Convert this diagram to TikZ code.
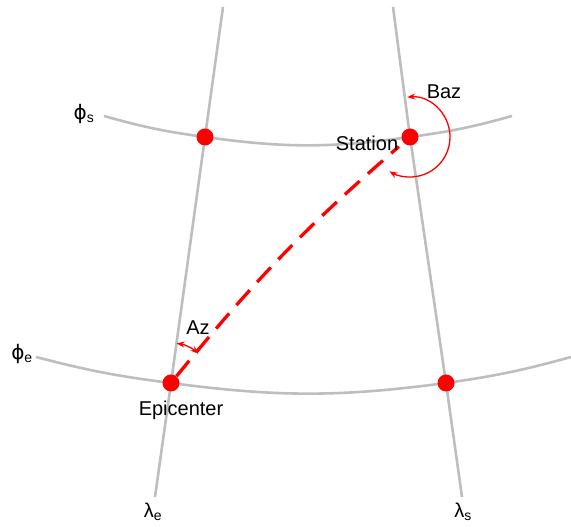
\documentclass[tikz,border=0pt]{standalone}
\usepackage{fontspec}
\setmainfont{Liberation Sans}
\newfontfamily\greekfont{DejaVu Sans}
\usepackage{xcolor}
\usepackage{tikz}
\usetikzlibrary{arrows.meta,calc,backgrounds}
\definecolor{gridGray}{HTML}{BEBEBE}
\definecolor{pathRed}{HTML}{FF0000}

\begin{document}
\begin{tikzpicture}[x=1pt, y=1pt, >=Stealth,
  font=\fontsize{20}{24}\selectfont,
  dot/.style={circle,fill=pathRed,minimum size=17pt,inner sep=0pt},
  grid/.style={gridGray,line width=2.6pt},
  gcpath/.style={pathRed,line width=3.3pt,dash pattern=on 20pt off 11pt},
  anglearc/.style={pathRed,line width=1.3pt,{Stealth[length=8pt,width=6pt]}-{Stealth[length=8pt,width=6pt]}}]
\useasboundingbox (0,0) rectangle (571,527);
% --- intersection points ---
\node[dot] (se)  at (205,390) {};
\node[dot] (sta) at (410,390) {};
\node[dot] (epi) at (171,144) {};
\node[dot] (es)  at (446,144) {};
% free ends of the grid lines
\coordinate (le-top) at (223,520);
\coordinate (le-bot) at (155,30);
\coordinate (ls-top) at (393,520);
\coordinate (ls-bot) at (462,30);
\coordinate (ps-w) at (104,411);
\coordinate (ps-e) at (512,411);
\coordinate (pe-w) at (36,170);
\coordinate (pe-e) at (571,170);
\begin{scope}[on background layer]
  % meridians
  \draw[grid] (le-top) -- (se.center) -- (epi.center) -- (le-bot);
  \draw[grid] (ls-top) -- (sta.center) -- (es.center) -- (ls-bot);
  % parallels
  \draw[grid] (ps-w) to[bend right=4] (se.center) to[bend right=8] (sta.center) to[bend right=4] (ps-e);
  \draw[grid] (pe-w) to[bend right=3.7] (epi.center) to[bend right=7.6] (es.center) to[bend right=3.7] (pe-e);
\end{scope}
% great circle path, epicenter to station
\draw[gcpath,shorten >=6pt] (epi) to[bend left=5] (sta);
% azimuth and back azimuth
\draw[anglearc] ($(epi)+(82:40)$) arc[start angle=82, end angle=47, radius=40];
\draw[anglearc] ($(sta)+(94:40)$) arc[start angle=94, end angle=-121, radius=40];
% --- labels ---
\node (phis) at (84,413) {{\greekfont ϕ}\textsubscript{s}};
\node (phie) at (22,173) {{\greekfont ϕ}\textsubscript{e}};
\node (lame) at (153,15) {λ\textsubscript{e}};
\node (lams) at (463,15) {λ\textsubscript{s}};
\node (baz) at (444,435) {Baz};
\node (stalbl) at (367,384) {Station};
\node (az) at (198,199) {Az};
\node (epilbl) at (181,117) {Epicenter};
\end{tikzpicture}
\end{document}
